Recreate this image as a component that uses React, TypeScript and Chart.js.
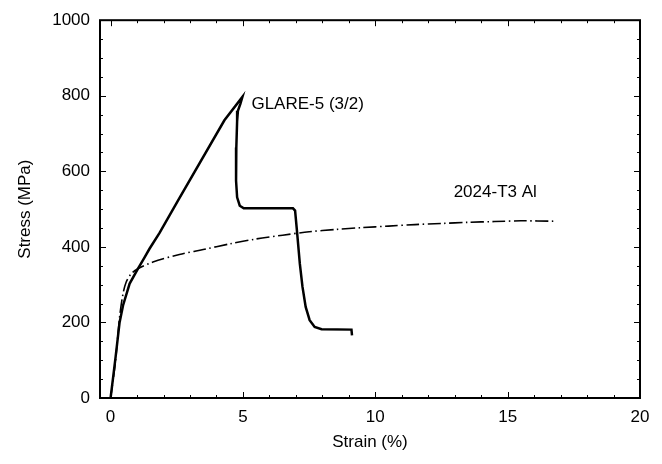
import React, { useEffect, useRef } from "react";
import { Chart, registerables } from "chart.js";

Chart.register(...registerables);

// GLARE-5 (3/2) curve
const glareStrain = [0, 0.1, 0.19, 0.34, 0.47, 0.72, 1.03, 1.29, 1.47, 1.85, 2.54, 4.3, 4.98, 4.9, 4.81, 4.78, 4.75, 4.74, 4.78, 4.88, 5.03, 6.89, 6.97, 7.04, 7.15, 7.25, 7.37, 7.52, 7.71, 7.97, 9.1, 9.12];
const glareStress = [0, 57, 109, 200, 245, 303, 342, 373, 395, 437, 522, 735, 797, 778, 760, 733, 663, 575, 531, 509, 502, 502, 496, 443, 355, 294, 241, 206, 188, 182, 181, 166];

// 2024-T3 Al curve
const alStrain = [0, 0.1, 0.19, 0.34, 0.47, 0.59, 0.78, 1.03, 1.6, 2.6, 3.5, 4.5, 5.5, 6.5, 7.5, 8.5, 9.5, 10.5, 11.5, 12.5, 13.5, 14.5, 15.5, 16.75];
const alStress = [0, 50, 100, 214, 276, 307, 329, 342, 360, 380, 393, 408, 421, 431, 440, 446, 451, 455, 459, 462, 465, 467, 469, 468];

const xTickValues = [0, 5, 10, 15, 20];
const yTickValues = [0, 200, 400, 600, 800, 1000];
const xMinorStep = 1;
const yMinorStep = 50;

const curveLabels = ["GLARE-5 (3/2)", "2024-T3 Al"];
const curveLabelStrain = [5.32, 12.96];
const curveLabelStress = [778, 545];

const FONT = '"Liberation Sans", Arial, Helvetica, sans-serif';

const framePlugin = {
  id: "frame",
  afterDraw(chart: any) {
    const { ctx, chartArea: a, scales } = chart;
    const xs = scales.x;
    const ys = scales.y;
    ctx.save();
    ctx.strokeStyle = "#000";
    ctx.lineWidth = 1;
    ctx.beginPath();
    for (let v = 0; v <= 20 + 1e-9; v += xMinorStep) {
      const px = Math.round(xs.getPixelForValue(v)) + 0.5;
      const len = v % 5 === 0 ? 6 : 3;
      ctx.moveTo(px, a.bottom);
      ctx.lineTo(px, a.bottom - len);
      ctx.moveTo(px, a.top);
      ctx.lineTo(px, a.top + len);
    }
    for (let v = 0; v <= 1000 + 1e-9; v += yMinorStep) {
      const py = Math.round(ys.getPixelForValue(v)) + 0.5;
      const len = v % 200 === 0 ? 6 : 3;
      ctx.moveTo(a.left, py);
      ctx.lineTo(a.left + len, py);
      ctx.moveTo(a.right, py);
      ctx.lineTo(a.right - len, py);
    }
    ctx.stroke();
    ctx.lineWidth = 2;
    ctx.strokeRect(a.left, a.top, a.right - a.left, a.bottom - a.top);

    ctx.fillStyle = "#000";
    ctx.font = `17px ${FONT}`;
    ctx.textAlign = "left";
    ctx.textBaseline = "middle";
    curveLabels.forEach((t, i) => {
      ctx.fillText(t, xs.getPixelForValue(curveLabelStrain[i]), ys.getPixelForValue(curveLabelStress[i]));
    });
    ctx.restore();
  },
};

export default function App() {
  const ref = useRef<HTMLCanvasElement | null>(null);

  useEffect(() => {
    if (!ref.current) return;
    const chart = new Chart(ref.current, {
      type: "line",
      data: {
        datasets: [
          {
            label: "GLARE-5 (3/2)",
            data: glareStrain.map((x, i) => ({ x, y: glareStress[i] })),
            borderColor: "#000",
            borderWidth: 2.5,
            pointRadius: 0,
            tension: 0,
            fill: false,
          },
          {
            label: "2024-T3 Al",
            data: alStrain.map((x, i) => ({ x, y: alStress[i] })),
            borderColor: "#000",
            borderWidth: 1.6,
            borderDash: [13, 3.5, 1.5, 3.5],
            pointRadius: 0,
            tension: 0.3,
            fill: false,
          },
        ],
      },
      options: {
        responsive: false,
        animation: false,
        devicePixelRatio: 1,
        layout: { padding: { top: 19, right: 22, left: 0, bottom: 0 } },
        plugins: { legend: { display: false }, tooltip: { enabled: false } },
        scales: {
          x: {
            type: "linear",
            min: -0.4,
            max: 20,
            grid: { display: false, drawTicks: false },
            border: { display: false },
            afterBuildTicks: (s: any) => {
              s.ticks = xTickValues.map((v) => ({ value: v }));
            },
            afterFit: (s: any) => {
              s.height = 66;
            },
            ticks: {
              color: "#000",
              font: { family: FONT, size: 17 },
              padding: 9,
              maxRotation: 0,
              callback: (v: any) => String(v),
            },
            title: {
              display: true,
              text: "Strain (%)",
              color: "#000",
              font: { family: FONT, size: 17 },
              padding: { top: 0, bottom: 11 },
            },
          },
          y: {
            type: "linear",
            min: 0,
            max: 1000,
            grid: { display: false, drawTicks: false },
            border: { display: false },
            afterBuildTicks: (s: any) => {
              s.ticks = yTickValues.map((v) => ({ value: v }));
            },
            afterFit: (s: any) => {
              s.width = 100;
            },
            ticks: {
              color: "#000",
              font: { family: FONT, size: 17 },
              padding: 10,
              callback: (v: any) => String(v),
            },
            title: {
              display: true,
              text: "Stress (MPa)",
              color: "#000",
              font: { family: FONT, size: 17 },
              padding: { top: 15, bottom: 0 },
            },
          },
        },
      },
      plugins: [framePlugin],
    });
    return () => chart.destroy();
  }, []);

  return (
    <div style={{ position: "absolute", left: 0, top: 0, width: 662, height: 464, background: "#fff" }}>
      <canvas ref={ref} width={662} height={464} />
    </div>
  );
}
